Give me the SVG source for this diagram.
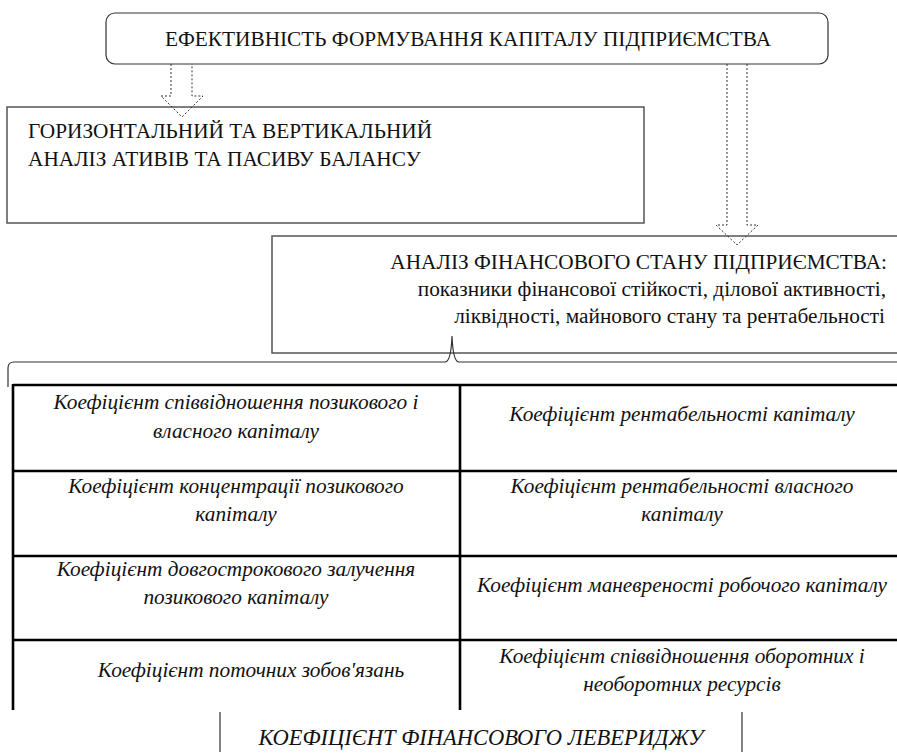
<svg xmlns="http://www.w3.org/2000/svg" width="897" height="753" viewBox="0 0 897 753">
<style>
.t{font-family:"Liberation Serif","DejaVu Serif",serif;font-size:21.3px;fill:#111}
.i{font-family:"Liberation Serif","DejaVu Serif",serif;font-size:21.3px;font-style:italic;fill:#111}
.c{text-anchor:middle}
.e{text-anchor:end}
.box{fill:#fff;stroke:#555;stroke-width:1.5}
.arr{fill:none;stroke:#333;stroke-width:1;stroke-dasharray:2,2}
.tb{stroke:#000;stroke-width:2.6;fill:none}
.thin{stroke:#333;stroke-width:1.2;fill:none}
</style>
<rect width="897" height="753" fill="#fff"/>
<g id="node-efficiency">
<rect x="106" y="13" width="722" height="51" rx="9" fill="#fff" stroke="#333" stroke-width="1.2"/>
<text class="t c" x="468" y="46">ЕФЕКТИВНІСТЬ ФОРМУВАННЯ КАПІТАЛУ ПІДПРИЄМСТВА</text>
</g>
<g id="node-horizontal">
<rect class="box" x="7" y="107" width="637" height="116"/>
<text class="t" x="28" y="138">ГОРИЗОНТАЛЬНИЙ ТА ВЕРТИКАЛЬНИЙ</text>
<text class="t" x="28" y="166">АНАЛІЗ АТИВІВ ТА ПАСИВУ БАЛАНСУ</text>
</g>
<g id="node-financial">
<rect class="box" x="272" y="236" width="640" height="117"/>
<text class="t e" x="887" y="269">АНАЛІЗ ФІНАНСОВОГО СТАНУ ПІДПРИЄМСТВА:</text>
<text class="t e" x="886" y="296">показники фінансової стійкості, ділової активності,</text>
<text class="t e" x="885" y="323">ліквідності, майнового стану та рентабельності</text>
</g>
<g id="connectors">
<path class="arr" d="M171,64 V96 H161 L182,117 L203,96 H192 V64"/>
<path class="arr" d="M727,64 V225 H716 L737,245 L758,225 H747 V64"/>
<path class="thin" d="M8,387 V368 Q8,362 14,362 H445 Q451,362 452,336 Q453,362 459,362 H900"/>
</g>
<g id="table">
<path class="tb" d="M13,385 H900 M13,471 H900 M13,556 H900 M13,640 H900 M13,384 V710 M460,384 V710"/>
</g>
<g id="cell-1-1">
<text class="i c" x="236" y="409">Коефіцієнт співвідношення позикового і</text>
<text class="i c" x="236" y="438">власного капіталу</text>
</g>
<g id="cell-1-2">
<text class="i c" x="682" y="421">Коефіцієнт рентабельності капіталу</text>
</g>
<g id="cell-2-1">
<text class="i c" x="236" y="493">Коефіцієнт концентрації позикового</text>
<text class="i c" x="236" y="521">капіталу</text>
</g>
<g id="cell-2-2">
<text class="i c" x="682" y="493">Коефіцієнт рентабельності власного</text>
<text class="i c" x="682" y="521">капіталу</text>
</g>
<g id="cell-3-1">
<text class="i c" x="236" y="576">Коефіцієнт довгострокового залучення</text>
<text class="i c" x="236" y="604">позикового капіталу</text>
</g>
<g id="cell-3-2">
<text class="i c" x="682" y="592">Коефіцієнт маневреності робочого капіталу</text>
</g>
<g id="cell-4-1">
<text class="i c" x="251" y="677">Коефіцієнт поточних зобов'язань</text>
</g>
<g id="cell-4-2">
<text class="i c" x="682" y="663">Коефіцієнт співвідношення оборотних і</text>
<text class="i c" x="682" y="691">необоротних ресурсів</text>
</g>
<g id="node-leverage">
<path class="thin" d="M220,712 V752 M742,712 V752"/>
<text class="i c" x="481" y="745" style="font-size:22.5px">КОЕФІЦІЄНТ ФІНАНСОВОГО ЛЕВЕРИДЖУ</text>
</g>
</svg>
